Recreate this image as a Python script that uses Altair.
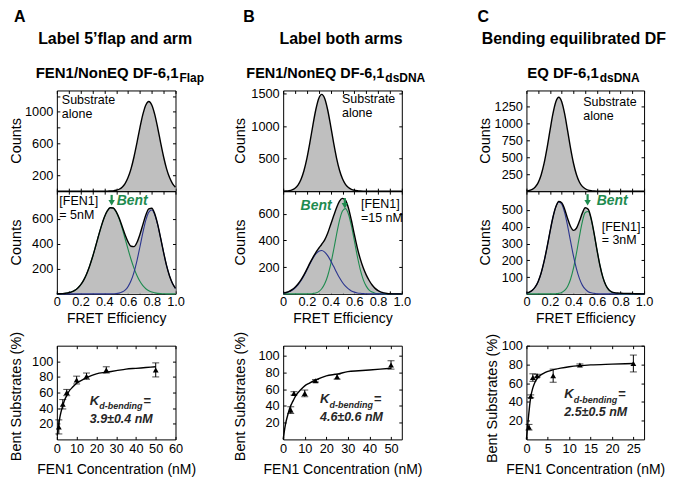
import altair as alt
import pandas as pd

FONT = "Liberation Sans"
GREEN = "#1e8b4f"
BLUE = "#2b358f"
GREY = "#bfbfbf"
DARK = "#262626"

# ---------------- histogram data (FRET efficiency grid, counts) ----------------
E = [0.0, 0.025, 0.05, 0.075, 0.1, 0.125, 0.15, 0.175, 0.2, 0.225,
     0.25, 0.275, 0.3, 0.325, 0.35, 0.375, 0.4, 0.425, 0.45, 0.475,
     0.5, 0.525, 0.55, 0.575, 0.6, 0.625, 0.65, 0.675, 0.7, 0.725,
     0.75, 0.775, 0.8, 0.825, 0.85, 0.875, 0.9, 0.925, 0.95, 0.975, 1.0]

A_TOP = [0, 0, 0, 0, 0, 0, 0, 0, 0, 0,
         0, 0, 0, 0, 0, 0, 0, 0, 2, 4,
         11, 24, 50, 96, 171, 281, 431, 609, 799, 968,
         1087, 1130, 1087, 968, 799, 609, 431, 281, 171, 96, 50]
A_BOT = [1, 1, 2, 5, 9, 16, 27, 45, 71, 108,
         157, 219, 292, 374, 460, 541, 611, 662, 688, 686,
         656, 605, 540, 471, 415, 380, 377, 410, 474, 553,
         629, 678, 683, 640, 555, 445, 330, 225, 142, 83, 44]
A_BOT_G = [1, 1, 2, 5, 9, 16, 27, 45, 71, 108,
           157, 219, 292, 374, 460, 541, 611, 662, 688, 685,
           654, 599, 526, 442, 357, 276, 205, 146, 100, 65,
           41, 25, 14, 8, 4, 2, 1, 0, 0, 0, 0]
A_BOT_B = [0, 0, 0, 0, 0, 0, 0, 0, 0, 0,
           0, 0, 0, 0, 0, 0, 0, 0, 0, 1,
           2, 6, 14, 29, 58, 104, 172, 264, 374, 488,
           588, 653, 669, 632, 551, 443, 329, 225, 142, 83, 44]

B_TOP = [1, 3, 8, 20, 45, 94, 179, 314, 505, 746,
         1010, 1253, 1427, 1490, 1427, 1253, 1010, 746, 510, 322,
         190, 105, 55, 28, 14, 7, 3, 1, 0, 0,
         0, 0, 0, 0, 0, 0, 0, 0, 0, 0, 0]
B_BOT = [5, 10, 18, 32, 50, 74, 104, 142, 185, 230,
         272, 310, 342, 372, 405, 455, 518, 583, 645, 695,
         716, 702, 645, 552, 445, 345, 262, 195, 142, 100,
         66, 41, 24, 13, 7, 3, 1, 0, 0, 0, 0]
B_BOT_G = [0, 0, 0, 0, 0, 0, 0, 0, 0, 1,
           3, 7, 17, 38, 75, 134, 219, 327, 445, 551,
           621, 639, 599, 511, 398, 282, 182, 107, 58, 28,
           13, 5, 2, 1, 0, 0, 0, 0, 0, 0, 0]
B_BOT_B = [5, 9, 16, 27, 44, 68, 98, 136, 179, 224,
           265, 299, 320, 325, 313, 287, 249, 206, 162, 120,
           85, 57, 37, 22, 13, 7, 4, 2, 1, 0,
           0, 0, 0, 0, 0, 0, 0, 0, 0, 0, 0]

C_TOP = [4, 10, 26, 61, 126, 238, 407, 632, 889, 1135,
         1314, 1380, 1314, 1135, 889, 632, 410, 245, 135, 70,
         35, 16, 7, 3, 1, 0, 0, 0, 0, 0,
         0, 0, 0, 0, 0, 0, 0, 0, 0, 0, 0]
C_BOT = [4, 10, 21, 41, 74, 124, 193, 277, 369, 455,
         519, 550, 543, 504, 449, 401, 378, 391, 432, 481,
         513, 504, 450, 362, 261, 169, 98, 51, 24, 12,
         7, 5, 4, 3, 3, 2, 2, 1, 1, 0, 0]
C_BOT_G = [0, 0, 0, 0, 0, 0, 0, 0, 0, 0,
           1, 3, 8, 20, 44, 87, 153, 241, 340, 429,
           485, 491, 444, 359, 260, 169, 98, 51, 24, 10,
           4, 1, 0, 0, 0, 0, 0, 0, 0, 0, 0]
C_BOT_B = [4, 10, 21, 41, 74, 124, 193, 277, 369, 455,
           518, 547, 535, 484, 405, 314, 225, 150, 92, 52,
           28, 13, 6, 3, 1, 0, 0, 0, 0, 0,
           0, 0, 0, 0, 0, 0, 0, 0, 0, 0, 0]

# "Bent" arrow positions (FRET value, stem top, stem bottom, arrow head, in counts)
A_ARROW = [0.462, 790, 745, 728]
B_ARROW = [0.52, 718, 675, 660]
C_ARROW = [0.52, 594, 557, 543]

# ---------------- titration data ----------------
A_CONC = [1, 3, 5, 10, 15, 25, 50]
A_BENT = [16, 45, 60, 76, 81, 89, 89]
A_ERR = [9, 6, 4, 5, 4, 4, 9]
A_FIT_X = [0.2, 0.5, 1, 1.5, 2, 3, 4, 5, 6, 8, 10, 12, 15, 20, 25, 30, 35, 40, 45, 50]
A_FIT_Y = [5, 11, 20, 28, 34, 43, 51, 56, 61, 67, 72, 75, 79, 84, 86, 88, 90, 91, 92, 93]

B_CONC = [3.5, 5, 10, 15, 25, 50]
B_BENT = [35, 55, 55, 70, 75, 89]
B_ERR = [4, 2, 4, 1.5, 3, 5]
B_FIT_X = [0, 0.5, 1, 2, 3, 4, 5, 6, 8, 10, 12, 15, 20, 25, 30, 35, 40, 45, 50]
B_FIT_Y = [0, 9, 17, 28, 37, 43, 48, 53, 59, 64, 67, 71, 76, 78, 81, 82, 83, 84, 85]

C_CONC = [0.6, 1, 1.5, 2.5, 6.25, 12.5, 25]
C_BENT = [13, 46, 66, 68, 68, 79.5, 81]
C_ERR = [3, 1.5, 4, 1.5, 7, 1, 9]
C_FIT_X = [0, 0.25, 0.5, 0.75, 1, 1.5, 2, 2.5, 3, 4, 5, 6, 8, 10, 12.5, 15, 20, 25]
C_FIT_Y = [0, 13, 25, 36, 45, 55, 61, 65, 67.5, 70.5, 72.5, 74, 76, 77.5, 78.7, 79.5, 80.3, 81]

# ---------------- layout ----------------
ONE = pd.DataFrame({"k": [0]})
WA, WB, WC = 119, 119, 118
SP1, SP2 = 108, 125
H_TOP, H_BOT, H_GAP, H_FIT = 101, 103, 52, 94
ANN = 12.5  # annotation font size
LINE = 14   # annotation line spacing

E_TICKS = [0, 0.1, 0.2, 0.3, 0.4, 0.5, 0.6, 0.7, 0.8, 0.9, 1.0]
E_LABELS = ("round(datum.value*10) % 2 == 0 ? "
            "(datum.value == 0 ? '0' : format(datum.value, '.1f')) : ''")


def txt(s, x, y, size=13, weight="normal", style="normal", color="black",
        align="left", baseline="alphabetic", angle=0):
    kw = dict(text=s, fontSize=size, fontWeight=weight, fontStyle=style,
              color=color, align=align, baseline=baseline, font=FONT)
    if angle:
        kw["angle"] = angle
    return alt.Chart(ONE).mark_text(**kw).encode(x=alt.value(x), y=alt.value(y))


def spacer(w, h):
    return (alt.Chart(ONE).mark_point(opacity=0)
            .encode(x=alt.value(0), y=alt.value(0))
            .properties(width=w, height=h,
                        view=alt.ViewBackground(stroke="transparent")))


def tick_axis(orient, values, **kw):
    return alt.Axis(orient=orient, values=values, tickSize=3, offset=-3,
                    domain=False, grid=False, labelOverlap=False, **kw)


def hist(total, green, blue, ymax, yticks, top, width, height, extras,
         label_expr=None):
    df = pd.DataFrame({"E": E, "total": total})
    if green is not None:
        df["green"] = green
        df["blue"] = blue
    xs = alt.Scale(domain=[0, 1], nice=False, zero=False)
    ys = alt.Scale(domain=[0, ymax], nice=False)
    if top:
        xax = tick_axis("bottom", E_TICKS, labels=False, title=None)
    else:
        xax = tick_axis("bottom", E_TICKS, labelExpr=E_LABELS,
                        title="FRET Efficiency", labelPadding=2,
                        titlePadding=3, labelFlush=False)
    ykw = dict(format="d", title=None, labelPadding=4)
    if label_expr:
        ykw["labelExpr"] = label_expr
    yax = tick_axis("left", yticks, **ykw)
    base = alt.Chart(df)
    layers = [
        base.mark_area(color=GREY, interpolate="monotone").encode(
            x=alt.X("E:Q", scale=xs, axis=xax),
            y=alt.Y("total:Q", scale=ys, axis=yax)),
    ]
    if green is not None:
        for col, c in (("green", GREEN), ("blue", BLUE)):
            layers.append(base.mark_line(color=c, strokeWidth=1.1,
                                         interpolate="monotone").encode(
                x=alt.X("E:Q", scale=xs, axis=None),
                y=alt.Y(col + ":Q", scale=ys, axis=None)))
    layers.append(base.mark_line(color="black", strokeWidth=1.4,
                                 interpolate="monotone").encode(
        x=alt.X("E:Q", scale=xs, axis=None),
        y=alt.Y("total:Q", scale=ys, axis=None)))
    layers.append(base.mark_point(opacity=0).encode(
        x=alt.X("E:Q", scale=xs,
                axis=tick_axis("top", E_TICKS, labels=False, title=None)),
        y=alt.Y("total:Q", scale=ys,
                axis=tick_axis("right", yticks, labels=False, title=None))))
    layers.extend(extras(xs, ys))
    return (alt.layer(*layers)
            .resolve_axis(x="independent", y="independent")
            .properties(width=width, height=height))


def arrow(spec):
    e, y0, y1, yh = spec

    def make(xs, ys):
        d = pd.DataFrame({"E": [e], "a": [y0], "b": [y1], "h": [yh]})
        stem = alt.Chart(d).mark_rule(color=GREEN, strokeWidth=2.2).encode(
            x=alt.X("E:Q", scale=xs, axis=None),
            y=alt.Y("a:Q", scale=ys, axis=None), y2="b:Q")
        head = alt.Chart(d).mark_point(shape="triangle-down", filled=True,
                                       size=42, color=GREEN, opacity=1).encode(
            x=alt.X("E:Q", scale=xs, axis=None),
            y=alt.Y("h:Q", scale=ys, axis=None))
        return [stem, head]
    return make


def fit(conc, bent, err, fx, fy, xmax, xticks, ymax, width, height, extras):
    pts = pd.DataFrame({"conc": conc, "bent": bent, "err": err})
    cur = pd.DataFrame({"x": fx, "y": fy})
    xs = alt.Scale(domain=[0, xmax], nice=False)
    ys = alt.Scale(domain=[0, ymax], nice=False)
    yt = [20, 40, 60, 80, 100]
    xax = tick_axis("bottom", xticks, format="d",
                    title="FEN1 Concentration (nM)", labelPadding=3,
                    titlePadding=7, labelFlush=False)
    yax = tick_axis("left", yt, format="d", title=None, labelPadding=4)
    pb = alt.Chart(pts).transform_calculate(
        lo="datum.bent - datum.err", hi="datum.bent + datum.err")
    X = alt.X("conc:Q", scale=xs, axis=None)
    layers = [
        alt.Chart(cur).mark_line(color="black", strokeWidth=1.4,
                                 interpolate="monotone").encode(
            x=alt.X("x:Q", scale=xs, axis=xax),
            y=alt.Y("y:Q", scale=ys, axis=yax)),
        pb.mark_rule(color="black", strokeWidth=1).encode(
            x=X, y=alt.Y("lo:Q", scale=ys, axis=None), y2="hi:Q"),
        pb.mark_tick(orient="horizontal", size=7, thickness=1,
                     color="black").encode(
            x=X, y=alt.Y("lo:Q", scale=ys, axis=None)),
        pb.mark_tick(orient="horizontal", size=7, thickness=1,
                     color="black").encode(
            x=X, y=alt.Y("hi:Q", scale=ys, axis=None)),
        alt.Chart(pts).mark_point(shape="triangle-up", filled=True, size=34,
                                  color="black", opacity=1).encode(
            x=X, y=alt.Y("bent:Q", scale=ys, axis=None)),
        alt.Chart(cur).mark_point(opacity=0).encode(
            x=alt.X("x:Q", scale=xs,
                    axis=tick_axis("top", xticks, labels=False, title=None)),
            y=alt.Y("y:Q", scale=ys,
                    axis=tick_axis("right", yt, labels=False, title=None))),
    ]
    layers.extend(extras)
    return (alt.layer(*layers)
            .resolve_axis(x="independent", y="independent")
            .properties(width=width, height=height))


def kd_text(x, y, value):
    return [
        txt("K", x, y, 13, "bold", "italic", DARK),
        txt("d-bending", x + 9.5, y + 5, 9, "bold", "italic", DARK),
        txt("=", x + 54, y, 13, "bold", "normal", DARK),
        txt(value, x, y + 19, 12.5, "bold", "italic", DARK),
    ]


def heading(letter, lx, title, tx, sub_main, sub_x, sub_s, ms=15):
    return [
        txt(letter, lx, -68.5, 16, "bold"),
        txt(title, tx, -47, 16, "bold", align="center"),
        txt(sub_main, sub_x, -13, ms, "bold", align="right"),
        txt(sub_s, sub_x + 1, -8, 12, "bold"),
    ]


def counts(x, h):
    return txt("Counts", x, h / 2, 14.5, angle=270, align="center",
               baseline="middle")


def two_lines(a, b, x, y):
    return [txt(a, x, y, ANN), txt(b, x, y + LINE, ANN)]


# ---------------- panel A ----------------
topA = hist(A_TOP, None, None, 1270, [200, 400, 600, 800, 1000, 1200], True,
            WA, H_TOP,
            lambda xs, ys: heading("A", -43, "Label 5\u2019flap and arm", 58.5,
                                   "FEN1/NonEQ DF-6,1", 122, "Flap")
            + two_lines("Substrate", "alone", 5, 14) + [counts(-40, H_TOP)],
            label_expr="datum.value % 400 == 200 ? datum.label : ''")
botA = hist(A_BOT, A_BOT_G, A_BOT_B, 820, [200, 400, 600], False, WA, H_BOT,
            lambda xs, ys: arrow(A_ARROW)(xs, ys)
            + two_lines("[FEN1]", "= 5nM", 2.5, 13.5) + [
                txt("Bent", 60, 13.5, 14, "bold", "italic", GREEN),
                counts(-40, H_BOT)])
fitA = fit(A_CONC, A_BENT, A_ERR, A_FIT_X, A_FIT_Y, 60,
           [0, 10, 20, 30, 40, 50, 60], 120, WA, H_FIT,
           kd_text(33, 59, "3.9\u00b10.4 nM") + [
               txt("Bent Substrates (%)", -40, H_FIT / 2 + 4, 14.5, angle=270,
                   align="center", baseline="middle")])

# ---------------- panel B ----------------
topB = hist(B_TOP, None, None, 1550, [500, 1000, 1500], True, WB, H_TOP,
            lambda xs, ys: heading("B", -40, "Label both arms", 58,
                                   "FEN1/NonEQ DF-6,1", 101.5, "dsDNA",
                                   ms=14.5)
            + two_lines("Substrate", "alone", 59, 13) + [counts(-42, H_TOP)])
botB = hist(B_BOT, B_BOT_G, B_BOT_B, 770, [200, 400, 600], False, WB, H_BOT,
            lambda xs, ys: arrow(B_ARROW)(xs, ys)
            + two_lines("[FEN1]", "=15 nM", 78, 17) + [
                txt("Bent", 17.5, 18.5, 14, "bold", "italic", GREEN),
                counts(-42, H_BOT)])
fitB = fit(B_CONC, B_BENT, B_ERR, B_FIT_X, B_FIT_Y, 55,
           [0, 10, 20, 30, 40, 50], 112, WB, H_FIT,
           kd_text(37, 57, "4.6\u00b10.6 nM") + [
               txt("Bent Substrates (%)", -42, H_FIT / 2 + 4, 14.5, angle=270,
                   align="center", baseline="middle")])

# ---------------- panel C ----------------
topC = hist(C_TOP, None, None, 1480, [250, 500, 750, 1000, 1250], True, WC,
            H_TOP,
            lambda xs, ys: heading("C", -49, "Bending equilibrated DF", 47.5,
                                   "EQ DF-6,1", 72.5, "dsDNA")
            + two_lines("Substrate", "alone", 57, 15.5) + [counts(-41, H_TOP)])
botC = hist(C_BOT, C_BOT_G, C_BOT_B, 612, [100, 200, 300, 400, 500], False,
            WC, H_BOT,
            lambda xs, ys: arrow(C_ARROW)(xs, ys)
            + two_lines("[FEN1]", "= 3nM", 75.5, 39.5) + [
                txt("Bent", 70.5, 13.5, 14, "bold", "italic", GREEN),
                counts(-41, H_BOT)])
fitC = fit(C_CONC, C_BENT, C_ERR, C_FIT_X, C_FIT_Y, 27.5,
           [0, 5, 10, 15, 20, 25], 100, WC, H_FIT,
           kd_text(38, 52, "2.5\u00b10.5 nM") + [
               txt("Bent Substrates (%)", -33.5, H_FIT / 2 + 6, 14.5,
                   angle=270, align="center", baseline="middle")])

cells = [
    topA, spacer(SP1, H_TOP), topB, spacer(SP2, H_TOP), topC,
    botA, spacer(SP1, H_BOT), botB, spacer(SP2, H_BOT), botC,
    spacer(WA, H_GAP), spacer(SP1, H_GAP), spacer(WB, H_GAP),
    spacer(SP2, H_GAP), spacer(WC, H_GAP),
    fitA, spacer(SP1, H_FIT), fitB, spacer(SP2, H_FIT), fitC,
]

chart = (alt.concat(*cells, columns=5, spacing=0, bounds="flush", align="each")
         .properties(padding=0)
         .configure_axis(labelFont=FONT, titleFont=FONT, labelFontSize=12.8,
                         titleFontSize=14, titleFontWeight="normal",
                         labelColor="black", titleColor="black",
                         tickColor="black", tickWidth=1)
         .configure_view(stroke="black", strokeWidth=1))

chart.save("out.html", embed_options={"renderer": "svg", "actions": False})
